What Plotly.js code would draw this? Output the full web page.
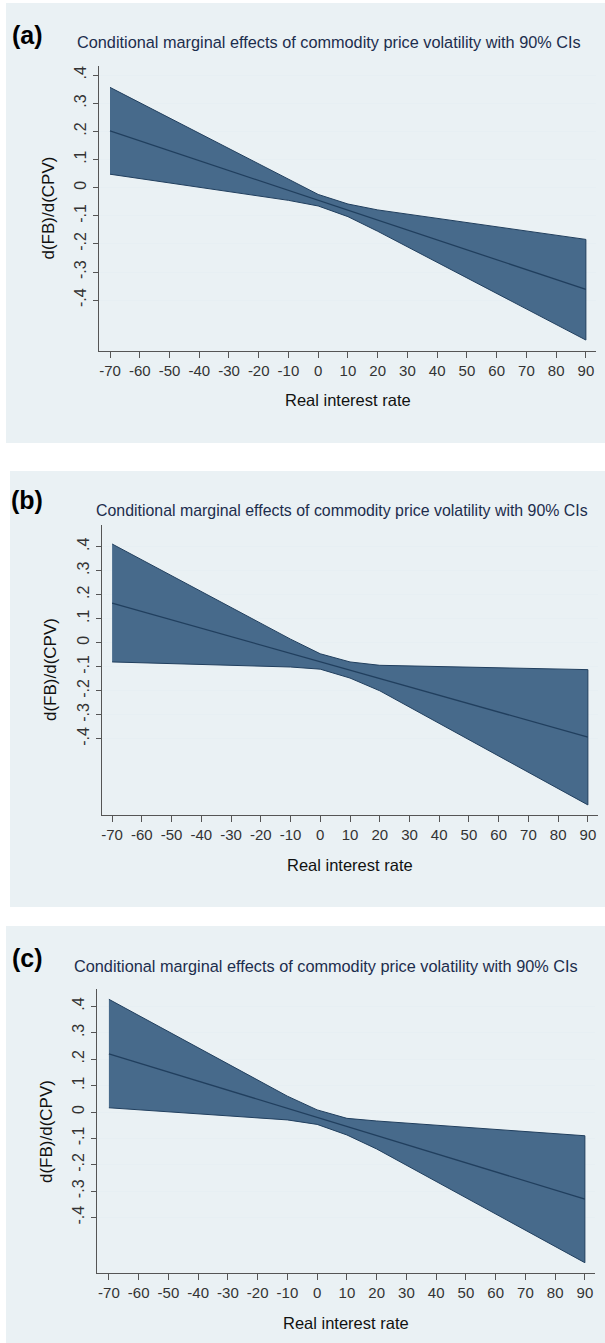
<!DOCTYPE html>
<html>
<head>
<meta charset="utf-8">
<script src="https://cdn.plot.ly/plotly-3.0.1.min.js"></script>
<style>html,body{margin:0;padding:0;background:#fff;}#chart{width:605px;height:1343px;}</style>
</head>
<body>
<div id="chart"></div>
<script>
// ---- data ----
const rateAt = [-70, -10, 0, 10, 20, 90];
const aCenter = [0.202, -0.010, -0.045, -0.080, -0.115, -0.362];
const aUpper  = [0.357, 0.030, -0.024, -0.058, -0.079, -0.184];
const aLower  = [0.048, -0.045, -0.065, -0.103, -0.155, -0.542];
const bCenter = [0.165, -0.044, -0.079, -0.114, -0.149, -0.393];
const bUpper  = [0.411, 0.015, -0.046, -0.080, -0.094, -0.112];
const bLower  = [-0.080, -0.101, -0.110, -0.147, -0.200, -0.675];
const cCenter = [0.220, 0.014, -0.021, -0.055, -0.089, -0.330];
const cUpper  = [0.427, 0.060, 0.008, -0.024, -0.034, -0.090];
const cLower  = [0.016, -0.030, -0.047, -0.087, -0.140, -0.571];
const xTickVals = [-70,-60,-50,-40,-30,-20,-10,0,10,20,30,40,50,60,70,80,90];
const xTickText = ['-70','-60','-50','-40','-30','-20','-10','0','10','20','30','40','50','60','70','80','90'];
const yTickVals = [-0.4,-0.3,-0.2,-0.1,0,0.1,0.2,0.3,0.4];
const yTickText = ['-.4','-.3','-.2','-.1','0','.1','.2','.3','.4'];
const panelLabels = ['(a)','(b)','(c)'];
const chartTitle = 'Conditional marginal effects of commodity price volatility with 90% CIs';
const xTitle = 'Real interest rate';
const yTitle = 'd(FB)/d(CPV)';

// ---- layout geometry (pixels) ----
const W = 605, H = 1343;
const panels = [
  {c:aCenter,u:aUpper,l:aLower, bg:[6,605,3,443], lab:[27,35], tl:[75,42], ts:16.3, px:[99,596], py:[66,351], xr:[-73.7,93.4], yr:[-0.581,0.433], xt:400, yt:48},
  {c:bCenter,u:bUpper,l:bLower, bg:[10,605,471,907], lab:[27,500], tl:[94,510], ts:15.9, px:[102,598], py:[525,815], xr:[-73.4,93.4], yr:[-0.717,0.49], xt:865, yt:50},
  {c:cCenter,u:cUpper,l:cLower, bg:[6,605,926,1343], lab:[27,958], tl:[72,966], ts:16.3, px:[97,595], py:[989,1273], xr:[-74.0,93.4], yr:[-0.61,0.466], xt:1323, yt:46}
];
const fx = p => p / W;
const fy = p => 1 - p / H;

const fillCol = '#476a8b';
const edgeCol = '#213f5e';
const traces = [];
const layout = {
  width: W, height: H, margin:{l:0,r:0,t:0,b:0},
  paper_bgcolor:'#ffffff', plot_bgcolor:'#ffffff', showlegend:false,
  font:{family:'Liberation Sans, Arial, sans-serif', color:'#222'},
  shapes:[], annotations:[]
};

panels.forEach((p, i) => {
  const n = i === 0 ? '' : String(i + 1);
  const xa = 'x' + n, ya = 'y' + n;
  const polyX = rateAt.concat(rateAt.slice().reverse());
  const polyY = p.u.concat(p.l.slice().reverse());
  traces.push({x: polyX, y: polyY, xaxis: xa, yaxis: ya, type:'scatter', mode:'lines',
    fill:'toself', fillcolor: fillCol, line:{color: edgeCol, width:1}, hoverinfo:'skip'});
  traces.push({x: rateAt, y: p.c, xaxis: xa, yaxis: ya, type:'scatter', mode:'lines',
    line:{color: edgeCol, width:1.3}, hoverinfo:'skip'});
  layout['xaxis' + n] = {
    domain:[fx(p.px[0]), fx(p.px[1])], anchor: ya, range: p.xr,
    tickmode:'array', tickvals: xTickVals, ticktext: xTickText, ticks:'outside', ticklen:6, tickwidth:1, tickcolor:'#555',
    showline:true, linecolor:'#555', linewidth:1.3, showgrid:false, zeroline:false,
    tickfont:{size:15, color:'#333'}, fixedrange:true
  };
  layout['yaxis' + n] = {
    domain:[fy(p.py[1]), fy(p.py[0])], anchor: xa, range: p.yr,
    tickmode:'array', tickvals: yTickVals, ticktext: yTickText, tickangle:-90,
    ticks:'outside', ticklen:5, tickwidth:1, tickcolor:'#555',
    showline:true, linecolor:'#555', linewidth:1.3, showgrid:true, gridcolor:'#e7eff3', gridwidth:1,
    zeroline:false, tickfont:{size:16, color:'#333'}, fixedrange:true
  };
  layout.shapes.push({type:'rect', xref:'paper', yref:'paper', layer:'below',
    x0: fx(p.bg[0]), x1: fx(p.bg[1]), y0: fy(p.bg[3]), y1: fy(p.bg[2]),
    fillcolor:'#eaf1f4', line:{width:0}});
  layout.annotations.push({text: panelLabels[i], xref:'paper', yref:'paper', x: fx(p.lab[0]), y: fy(p.lab[1]),
    xanchor:'center', yanchor:'middle', showarrow:false, font:{size:25, color:'#000', family:'Liberation Sans, Arial, sans-serif', weight:'bold'}});
  layout.annotations.push({text: chartTitle, xref:'paper', yref:'paper', x: fx(p.tl[0]), y: fy(p.tl[1]),
    xanchor:'left', yanchor:'middle', showarrow:false, font:{size:p.ts, color:'#1c2d4d'}});
  layout.annotations.push({text: xTitle, xref:'paper', yref:'paper', x: fx((p.px[0]+p.px[1])/2), y: fy(p.xt),
    xanchor:'center', yanchor:'middle', showarrow:false, font:{size:16.5, color:'#111'}});
  layout.annotations.push({text: yTitle, xref:'paper', yref:'paper', x: fx(p.yt), y: fy((p.py[0]+p.py[1])/2),
    xanchor:'center', yanchor:'middle', textangle:-90, showarrow:false, font:{size:17, color:'#111'}});
});

Plotly.newPlot('chart', traces, layout, {staticPlot:true, displayModeBar:false});
</script>
</body>
</html>
